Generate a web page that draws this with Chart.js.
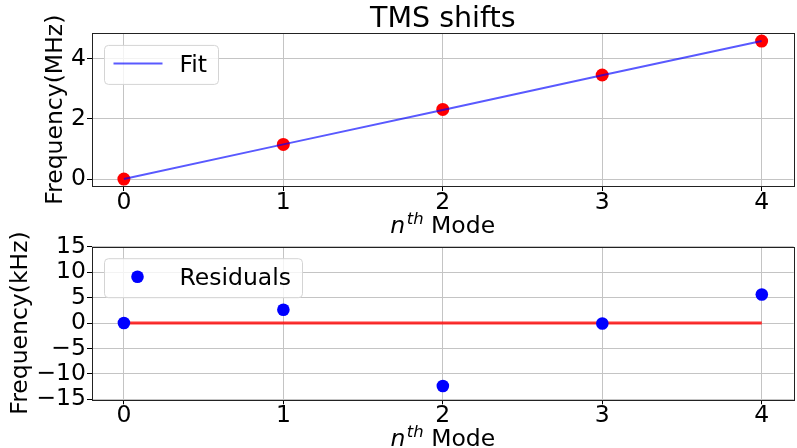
<!DOCTYPE html>
<html>
<head>
<meta charset="utf-8">
<script src="https://cdn.jsdelivr.net/npm/chart.js"></script>
<style>
    html, body { margin: 0; padding: 0; background: #fff; overflow: hidden; }
    #wrap { position: relative; width: 797px; height: 448px; overflow: hidden; }
    canvas { position: absolute; left: 0; }
    #shifts { top: 0; }
    #residuals { top: 220px; }
</style>
</head>
<body>
<div id="wrap">
    <canvas id="shifts" width="800" height="236"></canvas>
    <canvas id="residuals" width="800" height="228"></canvas>
</div>
<script>
// values
const modes = [0, 1, 2, 3, 4];
const measuredMHz = [0.0, 1.15, 2.31, 3.45, 4.575];
const fitMHz = [0.0, 1.15, 2.29, 3.44, 4.58];
const residualsKHz = [0.0, 2.6, -12.4, -0.1, 5.6];
const zeroKHz = [0, 0, 0, 0, 0];
const mhzTicks = [0, 2, 4];
const khzTicks = [-15, -10, -5, 0, 5, 10, 15];

const titleText = "TMS shifts";
const topYLabel = "Frequency(MHz)";
const bottomYLabel = "Frequency(kHz)";
const xLabelParts = ["n", "th", " Mode"];

const FONT = "'DejaVu Sans', sans-serif";
const SIZE = 23.5;
const GRID = '#c4c4c4';

let toPoints = function (ys) {
    return modes.map((x, i) => ({x: x, y: ys[i]}));
};

let framePlugin = {
    id: 'frame',
    afterDatasetsDraw(chart) {
        const a = chart.chartArea;
        const ctx = chart.ctx;
        ctx.save();
        ctx.strokeStyle = '#222';
        ctx.lineWidth = 1;
        ctx.strokeRect(Math.round(a.left) + 0.5, Math.round(a.top) + 0.5,
            Math.round(a.right - a.left), Math.round(a.bottom - a.top));
        ctx.restore();
    }
};

let legendPlugin = {
    id: 'boxLegend',
    afterDraw(chart, args, opts) {
        const a = chart.chartArea;
        const ctx = chart.ctx;
        const x = a.left + 12.5, y = a.top + 12;
        ctx.save();
        ctx.beginPath();
        ctx.roundRect(x, y, opts.width, 39, 4);
        ctx.fillStyle = 'rgba(255,255,255,0.8)';
        ctx.fill();
        ctx.strokeStyle = '#d4d4d4';
        ctx.lineWidth = 1;
        ctx.stroke();
        const my = y + 18;
        if (opts.kind === 'line') {
            ctx.beginPath();
            ctx.moveTo(x + 9, my);
            ctx.lineTo(x + 58, my);
            ctx.strokeStyle = opts.color;
            ctx.lineWidth = 2;
            ctx.stroke();
        } else {
            ctx.beginPath();
            ctx.arc(x + 33, my, 6.3, 0, Math.PI * 2);
            ctx.fillStyle = opts.color;
            ctx.fill();
        }
        ctx.font = `${SIZE}px ${FONT}`;
        ctx.fillStyle = '#000';
        ctx.textBaseline = 'alphabetic';
        ctx.fillText(opts.label, x + 75, my + 8.6);
        ctx.restore();
    }
};

// x axis title with italic n and superscript th
let modeTitlePlugin = {
    id: 'modeTitle',
    afterDraw(chart) {
        const a = chart.chartArea;
        const ctx = chart.ctx;
        const base = a.bottom + 46.5;
        const big = `italic ${SIZE}px ${FONT}`;
        const small = `italic ${SIZE * 0.7}px ${FONT}`;
        const plain = `${SIZE}px ${FONT}`;
        ctx.save();
        ctx.fillStyle = '#000';
        ctx.textBaseline = 'alphabetic';
        ctx.font = big;
        const wn = ctx.measureText(xLabelParts[0]).width;
        ctx.font = small;
        const wth = ctx.measureText(xLabelParts[1]).width;
        ctx.font = plain;
        const wm = ctx.measureText(xLabelParts[2]).width;
        const gap = 1.5;
        let x = (a.left + a.right) / 2 - (wn + gap + wth + wm) / 2;
        ctx.font = big;
        ctx.fillText(xLabelParts[0], x, base);
        x += wn + gap;
        ctx.font = small;
        ctx.fillText(xLabelParts[1], x, base - 8.5);
        x += wth;
        ctx.font = plain;
        ctx.fillText(xLabelParts[2], x, base);
        ctx.restore();
    }
};

let xScale = function (axisHeight) {
    return {
        type: 'linear',
        min: -0.2,
        max: 4.2,
        afterBuildTicks: (s) => { s.ticks = modes.map(v => ({value: v})); },
        afterFit: (s) => { s.height = axisHeight; s.paddingLeft = 0; s.paddingRight = 0; },
        grid: {color: GRID, lineWidth: 1, tickColor: '#000', tickLength: 5, tickWidth: 1},
        border: {display: false},
        ticks: {font: {family: FONT, size: SIZE, lineHeight: 1}, color: '#000', padding: 0,
            maxRotation: 0, autoSkip: false}
    };
};

let yScale = function (min, max, tickValues, label, titlePad) {
    return {
        type: 'linear',
        min: min,
        max: max,
        afterBuildTicks: (s) => { s.ticks = tickValues.map(v => ({value: v})); },
        afterFit: (s) => { s.width = 92; s.paddingTop = 0; s.paddingBottom = 0; },
        grid: {color: GRID, lineWidth: 1, tickColor: '#000', tickLength: 5, tickWidth: 1},
        border: {display: false},
        ticks: {font: {family: FONT, size: SIZE}, color: '#000', padding: 1, autoSkip: false,
            callback: (v) => String(v).replace('-', '\u2212')},
        title: {display: true, text: label, color: '#000', font: {family: FONT, size: SIZE},
            padding: {top: titlePad, bottom: 0}}
    };
};

let commonPlugins = function (legend) {
    return {
        legend: {display: false},
        tooltip: {enabled: false},
        boxLegend: legend
    };
};

const topPlugins = commonPlugins({label: 'Fit', kind: 'line', color: 'rgba(0,0,255,0.65)', width: 114});
topPlugins.title = {
    display: true,
    text: titleText,
    color: '#000',
    fullSize: false,
    font: {family: FONT, size: 28.5, weight: 'normal', lineHeight: 1},
    padding: {top: 4.9, bottom: 0}
};

new Chart(document.getElementById('shifts'), {
    type: 'scatter',
    data: {
        datasets: [{
            type: 'line',
            label: 'Fit',
            data: toPoints(fitMHz),
            borderColor: 'rgba(0,0,255,0.65)',
            borderWidth: 2,
            pointRadius: 0,
            fill: false,
            tension: 0
        }, {
            label: 'Data',
            data: toPoints(measuredMHz),
            backgroundColor: '#ff0000',
            borderWidth: 0,
            pointRadius: 6.5
        }]
    },
    options: {
        responsive: false,
        animation: false,
        events: [],
        layout: {padding: {left: 0, right: 2, top: 0, bottom: 0}},
        scales: {
            x: xScale(50),
            y: yScale(-0.23, 4.83, mhzTicks, topYLabel, 41.9)
        },
        plugins: topPlugins
    },
    plugins: [framePlugin, legendPlugin, modeTitlePlugin]
});

new Chart(document.getElementById('residuals'), {
    type: 'scatter',
    data: {
        datasets: [{
            label: 'Residuals',
            data: toPoints(residualsKHz),
            backgroundColor: '#0000ff',
            borderWidth: 0,
            pointRadius: 6.3
        }, {
            type: 'line',
            label: 'Zero',
            data: toPoints(zeroKHz),
            borderColor: 'rgba(255,0,0,0.8)',
            borderWidth: 2.8,
            pointRadius: 0,
            fill: false
        }]
    },
    options: {
        responsive: false,
        animation: false,
        events: [],
        layout: {padding: {left: 0, right: 2, top: 26.7, bottom: 0}},
        scales: {
            x: xScale(48.7),
            y: yScale(-15, 15, khzTicks, bottomYLabel, 6.9)
        },
        plugins: commonPlugins({label: 'Residuals', kind: 'dot', color: '#0000ff', width: 198})
    },
    plugins: [framePlugin, legendPlugin, modeTitlePlugin]
});
</script>
</body>
</html>
